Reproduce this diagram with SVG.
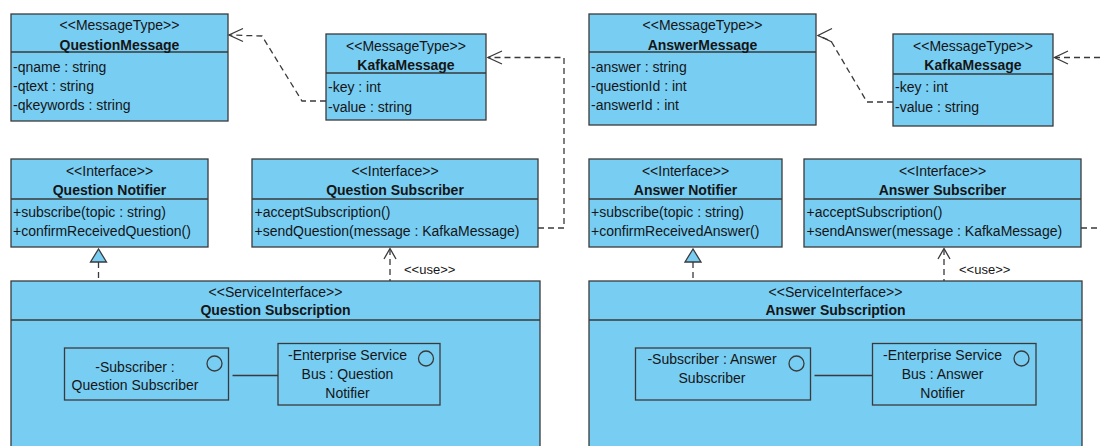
<svg xmlns="http://www.w3.org/2000/svg" width="1100" height="446" viewBox="0 0 1100 446">
  <style>
    .box { fill: #78CDF3; stroke: #3a3a3a; stroke-width: 1.3; }
    .part { fill: none; stroke: #3a3a3a; stroke-width: 1.3; }
    .div { stroke: #3a3a3a; stroke-width: 1.3; }
    .t { font-family: "Liberation Sans", Arial, sans-serif; font-size: 14px; fill: #151515; }
    .c { text-anchor: middle; }
    .b { font-weight: bold; }
    .small { font-size: 13px; }
    .dash { fill: none; stroke: #3a3a3a; stroke-width: 1.3; stroke-dasharray: 6 4; }
    .head { fill: none; stroke: #3a3a3a; stroke-width: 1.3; }
    .tri { fill: #78CDF3; stroke: #3a3a3a; stroke-width: 1.3; }
    .line { stroke: #3a3a3a; stroke-width: 1.3; }
  </style>

  <!-- Question side -->
  <g id="question-message">
    <rect class="box" x="11" y="14" width="217" height="107"/>
    <line class="div" x1="11" y1="52" x2="228" y2="52"/>
    <text class="t c" x="119.5" y="30">&lt;&lt;MessageType&gt;&gt;</text>
    <text class="t c b" x="119.5" y="49.5">QuestionMessage</text>
    <text class="t" x="13" y="71.5">-qname : string</text>
    <text class="t" x="13" y="90.5">-qtext : string</text>
    <text class="t" x="13" y="110">-qkeywords : string</text>
  </g>

  <g id="kafka-message-q">
    <rect class="box" x="326" y="34" width="160" height="86"/>
    <line class="div" x1="326" y1="73" x2="486" y2="73"/>
    <text class="t c" x="406" y="50.5">&lt;&lt;MessageType&gt;&gt;</text>
    <text class="t c b" x="406" y="70">KafkaMessage</text>
    <text class="t" x="328" y="91.5">-key : int</text>
    <text class="t" x="328" y="111.5">-value : string</text>
  </g>

  <g id="question-notifier">
    <rect class="box" x="11" y="159" width="197" height="88"/>
    <line class="div" x1="11" y1="199" x2="208" y2="199"/>
    <text class="t c" x="109.5" y="176">&lt;&lt;Interface&gt;&gt;</text>
    <text class="t c b" x="109.5" y="195">Question Notifier</text>
    <text class="t" x="13" y="216.5">+subscribe(topic : string)</text>
    <text class="t" x="13" y="236">+confirmReceivedQuestion()</text>
  </g>

  <g id="question-subscriber">
    <rect class="box" x="252" y="159" width="286" height="88"/>
    <line class="div" x1="252" y1="199" x2="538" y2="199"/>
    <text class="t c" x="395" y="176">&lt;&lt;Interface&gt;&gt;</text>
    <text class="t c b" x="395" y="195">Question Subscriber</text>
    <text class="t" x="254.5" y="216.5">+acceptSubscription()</text>
    <text class="t" x="254.5" y="236">+sendQuestion(message : KafkaMessage)</text>
  </g>

  <g id="question-subscription">
    <rect class="box" x="11" y="281" width="529" height="180"/>
    <line class="div" x1="11" y1="320" x2="540" y2="320"/>
    <text class="t c" x="275.5" y="296.5">&lt;&lt;ServiceInterface&gt;&gt;</text>
    <text class="t c b" x="275.5" y="315">Question Subscription</text>
    <g id="q-part-subscriber">
      <rect class="part" x="64.5" y="348" width="164" height="52"/>
      <circle class="part" cx="214.5" cy="363.5" r="7.5"/>
      <text class="t c" x="135" y="371.5">-Subscriber :</text>
      <text class="t c" x="135" y="390">Question Subscriber</text>
    </g>
    <g id="q-part-bus">
      <rect class="part" x="278" y="343.5" width="162" height="61.5"/>
      <circle class="part" cx="426" cy="358.5" r="7.5"/>
      <text class="t c" x="347.5" y="360">-Enterprise Service</text>
      <text class="t c" x="347.5" y="379">Bus : Question</text>
      <text class="t c" x="347.5" y="397.5">Notifier</text>
    </g>
    <line class="line" x1="232.5" y1="375.5" x2="278" y2="375.5"/>
  </g>

  <!-- Answer side -->
  <g id="answer-message">
    <rect class="box" x="589" y="14" width="227" height="111"/>
    <line class="div" x1="589" y1="52" x2="816" y2="52"/>
    <text class="t c" x="702.5" y="30">&lt;&lt;MessageType&gt;&gt;</text>
    <text class="t c b" x="702.5" y="49.5">AnswerMessage</text>
    <text class="t" x="591" y="71.5">-answer : string</text>
    <text class="t" x="591" y="90.5">-questionId : int</text>
    <text class="t" x="591" y="110">-answerId : int</text>
  </g>

  <g id="kafka-message-a">
    <rect class="box" x="893" y="34" width="160" height="92"/>
    <line class="div" x1="893" y1="74" x2="1053" y2="74"/>
    <text class="t c" x="973" y="50.5">&lt;&lt;MessageType&gt;&gt;</text>
    <text class="t c b" x="973" y="70">KafkaMessage</text>
    <text class="t" x="895" y="91.5">-key : int</text>
    <text class="t" x="895" y="111.5">-value : string</text>
  </g>

  <g id="answer-notifier">
    <rect class="box" x="589" y="159" width="193" height="88"/>
    <line class="div" x1="589" y1="199" x2="782" y2="199"/>
    <text class="t c" x="685.5" y="176">&lt;&lt;Interface&gt;&gt;</text>
    <text class="t c b" x="685.5" y="195">Answer Notifier</text>
    <text class="t" x="591" y="216.5">+subscribe(topic : string)</text>
    <text class="t" x="591" y="236">+confirmReceivedAnswer()</text>
  </g>

  <g id="answer-subscriber">
    <rect class="box" x="804" y="159" width="277" height="88"/>
    <line class="div" x1="804" y1="199" x2="1081" y2="199"/>
    <text class="t c" x="942.5" y="176">&lt;&lt;Interface&gt;&gt;</text>
    <text class="t c b" x="942.5" y="195">Answer Subscriber</text>
    <text class="t" x="806.5" y="216.5">+acceptSubscription()</text>
    <text class="t" x="806.5" y="236">+sendAnswer(message : KafkaMessage)</text>
  </g>

  <g id="answer-subscription">
    <rect class="box" x="589" y="281" width="493" height="180"/>
    <line class="div" x1="589" y1="320" x2="1082" y2="320"/>
    <text class="t c" x="835.5" y="296.5">&lt;&lt;ServiceInterface&gt;&gt;</text>
    <text class="t c b" x="835.5" y="315">Answer Subscription</text>
    <g id="a-part-subscriber">
      <rect class="part" x="635.5" y="348" width="175" height="52"/>
      <circle class="part" cx="796.5" cy="363.5" r="7.5"/>
      <text class="t c" x="712" y="364">-Subscriber : Answer</text>
      <text class="t c" x="712" y="383">Subscriber</text>
    </g>
    <g id="a-part-bus">
      <rect class="part" x="872.5" y="343.5" width="163.5" height="61.5"/>
      <circle class="part" cx="1021.5" cy="358.5" r="7.5"/>
      <text class="t c" x="942.5" y="360">-Enterprise Service</text>
      <text class="t c" x="942.5" y="379">Bus : Answer</text>
      <text class="t c" x="942.5" y="397.5">Notifier</text>
    </g>
    <line class="line" x1="814.5" y1="375.5" x2="872.5" y2="375.5"/>
  </g>

  <!-- Connectors -->
  <g id="connectors">
    <!-- KafkaMessage to QuestionMessage -->
    <path class="dash" d="M326,101 H302 L262,36 L229,35"/>
    <polyline class="head" points="243,28.5 229,35 243,41.5"/>
    <!-- Question Subscriber to KafkaMessage -->
    <path class="dash" d="M538,228 H564 V57.5 H488"/>
    <polyline class="head" points="502,51 488,57.5 502,64"/>
    <!-- realization: Question Subscription to Question Notifier -->
    <line class="dash" x1="98.5" y1="262" x2="98.5" y2="281"/>
    <polygon class="tri" points="98.5,249 90.5,262 106.5,262"/>
    <!-- use: Question Subscription to Question Subscriber -->
    <line class="dash" x1="390" y1="249" x2="390" y2="281"/>
    <polyline class="head" points="384,259 390,248.5 396,259"/>
    <text class="t small" x="404" y="273.5">&lt;&lt;use&gt;&gt;</text>

    <!-- KafkaMessage to AnswerMessage -->
    <path class="dash" d="M893,102 H867 L831,41 L818,35.5"/>
    <polyline class="head" points="832,28.5 818,35.5 832,42"/>
    <!-- from the right edge into KafkaMessage -->
    <path class="dash" d="M1100,57.5 H1055"/>
    <polyline class="head" points="1068,51 1054.5,57.5 1068,64"/>
    <!-- Answer Subscriber out to the right edge -->
    <path class="dash" d="M1081,228 H1100"/>
    <!-- realization: Answer Subscription to Answer Notifier -->
    <line class="dash" x1="693" y1="262" x2="693" y2="281"/>
    <polygon class="tri" points="693,249 685,262 701,262"/>
    <!-- use: Answer Subscription to Answer Subscriber -->
    <line class="dash" x1="944" y1="249" x2="944" y2="281"/>
    <polyline class="head" points="938,259 944,248.5 950,259"/>
    <text class="t small" x="959" y="273.5">&lt;&lt;use&gt;&gt;</text>
  </g>
</svg>
